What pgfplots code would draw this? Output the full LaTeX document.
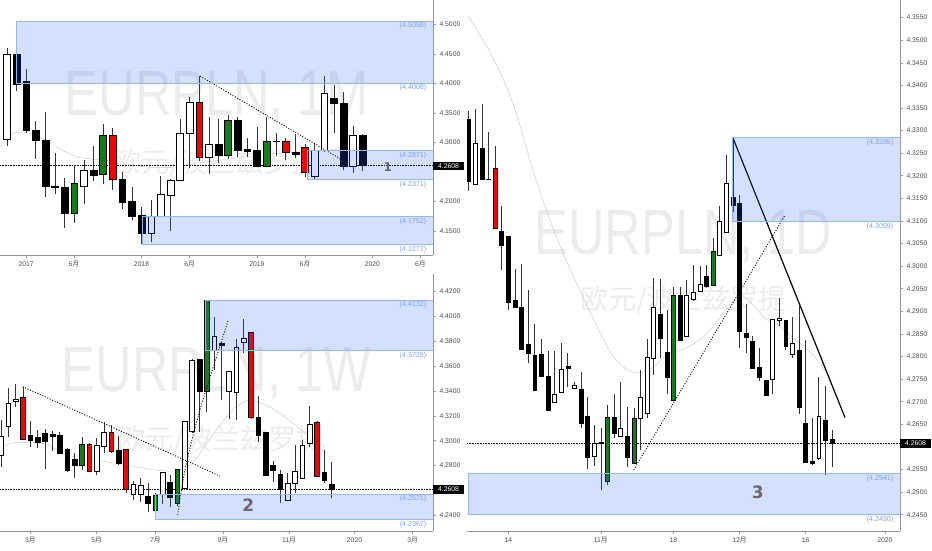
\documentclass[border=0pt]{standalone}
\usepackage{pgfplots}
\pgfplotsset{compat=1.18}
\usepackage{fontspec}
\setmainfont{Liberation Sans}
\newfontfamily\cjk{Noto Sans CJK SC}
\newfontfamily\numfont{DejaVu Sans}

\definecolor{cred}{RGB}{250,0,0}
\definecolor{cgreen}{RGB}{22,125,30}
\definecolor{boxfill}{RGB}{41,98,255}
\definecolor{boxline}{RGB}{150,182,242}
\definecolor{boxtext}{RGB}{125,160,232}
\definecolor{wm}{RGB}{236,236,236}
\definecolor{ticktext}{RGB}{75,75,75}
\definecolor{axisgray}{RGB}{150,150,150}
\definecolor{magray}{RGB}{205,205,205}
\definecolor{numgray}{RGB}{105,105,105}

\newcommand\yue{{\cjk 月}}
\def\hw{0.35}
% candle: x, open, high, low, close, fill
\newcommand\cdl[6]{%
  \pgfmathsetmacro\xl{#1-\hw}\pgfmathsetmacro\xr{#1+\hw}%
  \addplot[wick] coordinates {(#1,#4) (#1,#3)};
  \edef\tmp{\noexpand\addplot[body,fill=#6] coordinates {(\xl,#2) (\xr,#2) (\xr,#5) (\xl,#5)} -- cycle;}\tmp}

\pgfplotsset{
  tv/.style={scale only axis, width=433pt, anchor=south west, set layers,
    axis x line=bottom, axis y line=right,
    axis line style={-, draw=axisgray, line width=0.7pt},
    tick align=outside, major tick length=3pt,
    tick style={axisgray, line width=0.6pt},
    ticklabel style={font=\fontsize{6.8}{7}\selectfont, text=ticktext},
    yticklabel style={/pgf/number format/fixed, /pgf/number format/fixed zerofill,
      /pgf/number format/precision=4, /pgf/number format/assume math mode=true},
    clip mode=individual},
  wick/.style={black!80, line width=0.6pt},
  body/.style={draw=black, line width=0.5pt},
  zone/.style={draw=boxline, line width=0.6pt, fill=boxfill, fill opacity=0.2},
  ma/.style={magray, line width=0.5pt, smooth},
  cur/.style={black, line width=0.5pt, dash pattern=on 0.6pt off 1pt},
  trend/.style={black, line width=0.9pt, dash pattern=on 1pt off 1.7pt},
}
\tikzset{
  boxlab/.style={font=\fontsize{7.1}{7.5}\selectfont, text=boxtext, inner sep=1.5pt, anchor=north east},
  pricelab/.style={fill=black, text=white, font=\fontsize{6.8}{7}\selectfont, inner xsep=5pt, inner ysep=1.8pt, anchor=west},
  pnum/.style={font=\numfont\bfseries\fontsize{14}{14}\selectfont, text=numgray},
  wmbig/.style={font=\fontsize{64}{64}\selectfont, text=wm, xscale=0.79},
  wmcn/.style={font=\cjk\fontsize{28}{28}\selectfont, text=wm},
}

\begin{document}
\begin{tikzpicture}

% ---------------- monthly ----------------
\begin{axis}[tv, at={(0pt,295pt)}, height=255pt,
  xmin=-2.72, xmax=42.31, ymin=4.1096, ymax=4.5415,
  xtick={0,5,12,17,24,29,36,41},
  xticklabels={2017,6\yue,2018,6\yue,2019,6\yue,2020,6\yue},
  ytick={4.15,4.20,4.30,4.35,4.40,4.45,4.50}]
\begin{pgfonlayer}{axis background}
\node[wmbig] at (rel axis cs:0.5,0.616) {EURPLN, 1M};
\node[wmcn] at (rel axis cs:0.5,0.36) {欧元/波兰兹罗提};
\end{pgfonlayer}
\addplot[ma] coordinates {(-2.7,4.293) (-1.5,4.314) (-0.5,4.318) (1,4.313) (2.5,4.300)
  (4,4.285) (5.5,4.275) (7,4.272) (9,4.268) (11,4.262) (13,4.258) (15,4.258) (17,4.263)
  (19,4.268) (21,4.272) (23,4.276) (25,4.280) (27,4.283) (29,4.285) (31,4.287) (33,4.290) (35,4.292)};
\addplot[cur] coordinates {(-2.72,4.2608) (42.31,4.2608)};
\def\hw{0.35}
\cdl{-2}{4.3055}{4.4596}{4.2948}{4.4500}{white}
\cdl{-1}{4.4500}{4.5059}{4.3880}{4.3992}{black}
\cdl{0}{4.4037}{4.4240}{4.3168}{4.3202}{black}
\cdl{1}{4.3207}{4.3365}{4.2722}{4.3038}{black}
\cdl{2}{4.3044}{4.3523}{4.2084}{4.2253}{black}
\cdl{3}{4.2264}{4.2829}{4.2129}{4.2236}{black}
\cdl{4}{4.2247}{4.2394}{4.1559}{4.1796}{black}
\cdl{5}{4.1796}{4.2620}{4.1632}{4.2315}{cgreen}
\cdl{6}{4.2264}{4.2705}{4.1959}{4.2530}{white}
\cdl{7}{4.2530}{4.2948}{4.2355}{4.2451}{black}
\cdl{8}{4.2456}{4.3314}{4.2298}{4.3123}{cgreen}
\cdl{9}{4.3123}{4.3241}{4.2197}{4.2377}{cred}
\cdl{10}{4.2377}{4.2496}{4.1869}{4.1993}{black}
\cdl{11}{4.1999}{4.2253}{4.1688}{4.1756}{black}
\cdl{12}{4.1767}{4.1914}{4.1277}{4.1463}{black}
\cdl{13}{4.1463}{4.2027}{4.1321}{4.1745}{white}
\cdl{14}{4.1745}{4.2439}{4.1745}{4.2118}{white}
\cdl{15}{4.2112}{4.2383}{4.1502}{4.2355}{white}
\cdl{16}{4.2366}{4.3399}{4.2366}{4.3151}{white}
\cdl{17}{4.3156}{4.3777}{4.2563}{4.3687}{white}
\cdl{18}{4.3687}{4.4127}{4.2682}{4.2750}{cred}
\cdl{19}{4.2750}{4.3427}{4.2467}{4.2976}{white}
\cdl{20}{4.2976}{4.3399}{4.2648}{4.2789}{black}
\cdl{21}{4.2789}{4.3467}{4.2716}{4.3382}{cgreen}
\cdl{22}{4.3382}{4.3427}{4.2761}{4.2863}{black}
\cdl{23}{4.2885}{4.3072}{4.2750}{4.2846}{black}
\cdl{24}{4.2868}{4.3269}{4.2592}{4.2592}{black}
\cdl{25}{4.2592}{4.3438}{4.2592}{4.3021}{cgreen}
\cdl{26}{4.3027}{4.3156}{4.2777}{4.3022}{black}
\cdl{27}{4.3027}{4.3072}{4.2699}{4.2834}{cred}
\cdl{28}{4.2834}{4.3140}{4.2733}{4.2800}{black}
\cdl{29}{4.2925}{4.2976}{4.2422}{4.2490}{cred}
\cdl{30}{4.2422}{4.2976}{4.2366}{4.2863}{white}
\cdl{31}{4.2874}{4.4127}{4.2846}{4.3834}{white}
\cdl{32}{4.3749}{4.3975}{4.3156}{4.3664}{black}
\cdl{33}{4.3664}{4.3862}{4.2535}{4.2592}{black}
\cdl{34}{4.2592}{4.3280}{4.2490}{4.3128}{white}
\cdl{35}{4.3128}{4.3145}{4.2524}{4.2608}{black}
\addplot[trend] coordinates {(18.08,4.4127) (33.05,4.2688)};
\addplot[zone] coordinates {(-0.99,4.4008) (42.31,4.4008) (42.31,4.5059) (-0.99,4.5059)} -- cycle;
\addplot[zone] coordinates {(29.24,4.2371) (42.31,4.2371) (42.31,4.2871) (29.24,4.2871)} -- cycle;
\addplot[zone] coordinates {(12.1,4.1277) (42.31,4.1277) (42.31,4.1752) (12.1,4.1752)} -- cycle;
\node[boxlab] at (axis cs:41.79,4.5059) {(4.5059)};
\node[boxlab] at (axis cs:41.79,4.4008) {(4.4008)};
\node[boxlab] at (axis cs:41.79,4.2871) {(4.2871)};
\node[boxlab] at (axis cs:41.79,4.2371) {(4.2371)};
\node[boxlab] at (axis cs:41.79,4.1752) {(4.1752)};
\node[boxlab] at (axis cs:41.79,4.1277) {(4.1277)};
\node[pnum, font=\numfont\bfseries\fontsize{12}{12}\selectfont] at (axis cs:37.6,4.2586) {1};
\node[pricelab] at (axis cs:42.31,4.2608) {4.2608};
\end{axis}

% ---------------- weekly ----------------
\begin{axis}[tv, at={(0pt,19pt)}, height=257pt,
  xmin=0.864, xmax=59.78, ymin=4.2274, ymax=4.4341,
  xtick={5,14,22,31.2,40.2,49.1,57},
  xticklabels={3\yue,5\yue,7\yue,9\yue,11\yue,2020,3\yue},
  ytick={4.24,4.28,4.30,4.32,4.34,4.36,4.38,4.40,4.42}]
\begin{pgfonlayer}{axis background}
\node[wmbig] at (rel axis cs:0.5,0.611) {EURPLN, 1W};
\node[wmcn] at (rel axis cs:0.51,0.354) {欧元/波兰兹罗提};
\end{pgfonlayer}
\addplot[ma] coordinates {(0.86,4.2952) (3,4.2984) (7,4.2974) (10,4.2885) (14,4.2845)
  (18,4.2805) (22,4.2764) (25,4.2759) (27,4.2818) (29,4.2979) (31,4.3140) (33,4.3274)
  (35,4.3328) (37,4.3287) (39,4.3220) (41,4.3126) (43,4.3033) (45,4.2952)};
\addplot[cur] coordinates {(0.864,4.2608) (59.78,4.2608)};
\def\hw{0.32}
\cdl{1}{4.2885}{4.3167}{4.2791}{4.3033}{white}
\cdl{2}{4.3113}{4.3421}{4.3033}{4.3301}{white}
\cdl{3}{4.3314}{4.3454}{4.3274}{4.3336}{white}
\cdl{4}{4.3349}{4.3435}{4.3005}{4.3011}{cred}
\cdl{5}{4.3046}{4.3159}{4.2947}{4.3000}{black}
\cdl{6}{4.3027}{4.3087}{4.2939}{4.2984}{black}
\cdl{7}{4.3060}{4.3092}{4.2772}{4.2993}{black}
\cdl{8}{4.3049}{4.3081}{4.2918}{4.3033}{black}
\cdl{9}{4.3041}{4.3073}{4.2890}{4.2898}{black}
\cdl{10}{4.2930}{4.2939}{4.2751}{4.2764}{black}
\cdl{11}{4.2853}{4.2904}{4.2697}{4.2805}{black}
\cdl{12}{4.2805}{4.3033}{4.2764}{4.2971}{cgreen}
\cdl{13}{4.2974}{4.2979}{4.2751}{4.2756}{cred}
\cdl{14}{4.2751}{4.3025}{4.2724}{4.2966}{white}
\cdl{15}{4.2958}{4.3151}{4.2898}{4.3065}{white}
\cdl{16}{4.3065}{4.3124}{4.2900}{4.2917}{cred}
\cdl{17}{4.2925}{4.3038}{4.2802}{4.2819}{black}
\cdl{18}{4.2930}{4.2930}{4.2577}{4.2609}{cred}
\cdl{19}{4.2569}{4.2679}{4.2523}{4.2649}{white}
\cdl{20}{4.2569}{4.2697}{4.2510}{4.2644}{white}
\cdl{21}{4.2555}{4.2657}{4.2429}{4.2496}{black}
\cdl{22}{4.2437}{4.2582}{4.2367}{4.2563}{cgreen}
\cdl{23}{4.2571}{4.2751}{4.2491}{4.2743}{white}
\cdl{24}{4.2668}{4.2724}{4.2470}{4.2545}{black}
\cdl{25}{4.2496}{4.2770}{4.2475}{4.2770}{cgreen}
\cdl{26}{4.2617}{4.3159}{4.2604}{4.3159}{white}
\cdl{27}{4.3073}{4.3655}{4.3059}{4.3649}{white}
\cdl{28}{4.3655}{4.3655}{4.3073}{4.3395}{black}
\cdl{29}{4.3395}{4.4132}{4.3234}{4.4132}{cgreen}
\cdl{30}{4.3724}{4.3998}{4.3569}{4.3837}{white}
\cdl{31}{4.3783}{4.3797}{4.3328}{4.3767}{black}
\cdl{32}{4.3395}{4.3555}{4.3172}{4.3555}{white}
\cdl{33}{4.3387}{4.3816}{4.3167}{4.3751}{white}
\cdl{34}{4.3789}{4.3976}{4.3708}{4.3821}{white}
\cdl{35}{4.3872}{4.3872}{4.3172}{4.3185}{cred}
\cdl{36}{4.3185}{4.3360}{4.2992}{4.3046}{black}
\cdl{37}{4.3065}{4.3065}{4.2724}{4.2724}{black}
\cdl{38}{4.2805}{4.2837}{4.2671}{4.2765}{black}
\cdl{39}{4.2729}{4.2764}{4.2496}{4.2609}{black}
\cdl{40}{4.2518}{4.2743}{4.2518}{4.2657}{white}
\cdl{41}{4.2662}{4.2965}{4.2582}{4.2751}{white}
\cdl{42}{4.2697}{4.3006}{4.2697}{4.2965}{white}
\cdl{43}{4.2979}{4.3282}{4.2952}{4.3132}{white}
\cdl{44}{4.3145}{4.3159}{4.2716}{4.2716}{cred}
\cdl{45}{4.2746}{4.2925}{4.2662}{4.2684}{black}
\cdl{46}{4.2652}{4.2831}{4.2536}{4.2609}{black}
\addplot[trend] coordinates {(3.95,4.3435) (30.8,4.2716)};
\addplot[trend, smooth] coordinates {(25.04,4.2402) (26.03,4.2764) (28.07,4.3247) (31.93,4.3971)};
\addplot[zone] coordinates {(28.8,4.3725) (59.78,4.3725) (59.78,4.4132) (28.8,4.4132)} -- cycle;
\addplot[zone] coordinates {(21.95,4.2367) (59.78,4.2367) (59.78,4.2571) (21.95,4.2571)} -- cycle;
\node[boxlab] at (axis cs:59.1,4.4132) {(4.4132)};
\node[boxlab] at (axis cs:59.1,4.3725) {(4.3725)};
\node[boxlab] at (axis cs:59.1,4.2571) {(4.2571)};
\node[boxlab] at (axis cs:59.1,4.2367) {(4.2367)};
\node[pnum, font=\numfont\bfseries\fontsize{17}{17}\selectfont] at (axis cs:34.65,4.2483) {2};
\node[pricelab] at (axis cs:59.78,4.2608) {4.2608};
\end{axis}

% ---------------- daily ----------------
\begin{axis}[tv, at={(467pt,19pt)}, height=531pt,
  xmin=0.743, xmax=66.3, ymin=4.2414, ymax=4.3589,
  xtick={7,21,32,42,52,64},
  xticklabels={14,11\yue,18,12\yue,16,2020},
  ytick={4.245,4.250,4.255,4.265,4.270,4.275,4.280,4.285,4.290,4.295,4.300,
    4.305,4.310,4.315,4.320,4.325,4.330,4.335,4.340,4.345,4.350,4.355}]
\begin{pgfonlayer}{axis background}
\node[wmbig] at (rel axis cs:0.5,0.554) {EURPLN, 1D};
\node[wmcn] at (rel axis cs:0.5,0.435) {欧元/波兰兹罗提};
\end{pgfonlayer}
\addplot[ma] coordinates {(0.94,4.3554) (4.72,4.3460) (7.75,4.3358) (11.3,4.3186)
  (14.8,4.3046) (18.9,4.2913) (22.4,4.2811) (24.9,4.2772) (26.9,4.2764) (28.9,4.2776)
  (31,4.2803) (34,4.2819) (37,4.2850) (40.1,4.2905) (42.1,4.2936) (44.1,4.2913)
  (46.1,4.2882) (48.1,4.2866) (50.1,4.2842) (53.2,4.2803) (55.7,4.2753)};
\addplot[cur] coordinates {(0.743,4.2608) (66.3,4.2608)};
\def\hw{0.3}
\cdl{1}{4.3325}{4.3343}{4.3167}{4.3187}{black}
\cdl{2}{4.3182}{4.3347}{4.3180}{4.3273}{white}
\cdl{3}{4.3261}{4.3358}{4.3190}{4.3192}{black}
\cdl{4}{4.3193}{4.3298}{4.3190}{4.3192}{black}
\cdl{5}{4.3217}{4.3265}{4.3084}{4.3084}{cred}
\cdl{6}{4.3078}{4.3133}{4.2991}{4.3047}{black}
\cdl{7}{4.3067}{4.3067}{4.2904}{4.2921}{black}
\cdl{8}{4.2924}{4.2993}{4.2907}{4.2909}{black}
\cdl{9}{4.2909}{4.3005}{4.2814}{4.2816}{black}
\cdl{10}{4.2827}{4.2947}{4.2785}{4.2808}{black}
\cdl{11}{4.2802}{4.2871}{4.2726}{4.2726}{black}
\cdl{12}{4.2805}{4.2838}{4.2757}{4.2757}{black}
\cdl{13}{4.2757}{4.2813}{4.2680}{4.2682}{black}
\cdl{14}{4.2700}{4.2813}{4.2700}{4.2716}{white}
\cdl{15}{4.2721}{4.2829}{4.2721}{4.2773}{white}
\cdl{16}{4.2779}{4.2808}{4.2732}{4.2774}{black}
\cdl{17}{4.2729}{4.2744}{4.2729}{4.2736}{white}
\cdl{18}{4.2727}{4.2766}{4.2641}{4.2652}{black}
\cdl{19}{4.2667}{4.2711}{4.2552}{4.2577}{black}
\cdl{20}{4.2580}{4.2648}{4.2558}{4.2608}{white}
\cdl{21}{4.2611}{4.2642}{4.2504}{4.2608}{black}
\cdl{22}{4.2523}{4.2693}{4.2515}{4.2665}{cgreen}
\cdl{23}{4.2665}{4.2717}{4.2619}{4.2630}{black}
\cdl{24}{4.2623}{4.2744}{4.2623}{4.2642}{white}
\cdl{25}{4.2624}{4.2688}{4.2556}{4.2577}{black}
\cdl{26}{4.2563}{4.2687}{4.2563}{4.2663}{cgreen}
\cdl{27}{4.2663}{4.2770}{4.2593}{4.2711}{white}
\cdl{28}{4.2674}{4.2838}{4.2663}{4.2798}{white}
\cdl{29}{4.2796}{4.2973}{4.2759}{4.2910}{white}
\cdl{30}{4.2894}{4.2971}{4.2796}{4.2840}{black}
\cdl{31}{4.2809}{4.2903}{4.2718}{4.2754}{black}
\cdl{32}{4.2704}{4.2955}{4.2704}{4.2935}{cgreen}
\cdl{33}{4.2935}{4.2955}{4.2835}{4.2835}{black}
\cdl{34}{4.2844}{4.2969}{4.2844}{4.2936}{white}
\cdl{35}{4.2927}{4.3003}{4.2924}{4.2942}{white}
\cdl{36}{4.2944}{4.3000}{4.2944}{4.2960}{white}
\cdl{37}{4.2978}{4.3003}{4.2951}{4.2955}{black}
\cdl{38}{4.2958}{4.3062}{4.2958}{4.3034}{cgreen}
\cdl{39}{4.3025}{4.3133}{4.3025}{4.3099}{white}
\cdl{40}{4.3076}{4.3246}{4.3076}{4.3183}{white}
\cdl{41}{4.3152}{4.3285}{4.3120}{4.3134}{black}
\cdl{42}{4.3139}{4.3158}{4.2818}{4.2857}{black}
\cdl{43}{4.2851}{4.2916}{4.2807}{4.2842}{black}
\cdl{44}{4.2833}{4.2845}{4.2775}{4.2775}{black}
\cdl{45}{4.2776}{4.2818}{4.2746}{4.2755}{black}
\cdl{46}{4.2747}{4.2747}{4.2715}{4.2715}{black}
\cdl{47}{4.2749}{4.2882}{4.2717}{4.2882}{white}
\cdl{48}{4.2881}{4.2929}{4.2868}{4.2884}{white}
\cdl{49}{4.2881}{4.2881}{4.2814}{4.2822}{black}
\cdl{50}{4.2805}{4.2888}{4.2796}{4.2829}{white}
\cdl{51}{4.2814}{4.2912}{4.2673}{4.2687}{black}
\cdl{52}{4.2652}{4.2837}{4.2566}{4.2566}{black}
\cdl{53}{4.2569}{4.2663}{4.2560}{4.2563}{black}
\cdl{54}{4.2576}{4.2755}{4.2572}{4.2668}{white}
\cdl{55}{4.2658}{4.2735}{4.2538}{4.2614}{black}
\cdl{56}{4.2618}{4.2637}{4.2556}{4.2608}{black}
\addplot[black, line width=1.2pt] coordinates {(40.97,4.3285) (57.97,4.2665)};
\addplot[trend] coordinates {(25.98,4.2549) (48.9,4.3113)};
\addplot[zone] coordinates {(40.97,4.3099) (66.3,4.3099) (66.3,4.3285) (40.97,4.3285)} -- cycle;
\addplot[zone] coordinates {(0.94,4.2450) (66.3,4.2450) (66.3,4.2541) (0.94,4.2541)} -- cycle;
\node[boxlab] at (axis cs:65.54,4.3285) {(4.3285)};
\node[boxlab] at (axis cs:65.54,4.3099) {(4.3099)};
\node[boxlab] at (axis cs:65.54,4.2541) {(4.2541)};
\node[boxlab] at (axis cs:65.54,4.2450) {(4.2450)};
\node[pnum, font=\numfont\bfseries\fontsize{17}{17}\selectfont] at (axis cs:44.75,4.2500) {3};
\node[pricelab] at (axis cs:66.3,4.2608) {4.2608};
\end{axis}
\pgfresetboundingbox
\useasboundingbox (0,0) rectangle (932pt,550pt);
\end{tikzpicture}
\end{document}
